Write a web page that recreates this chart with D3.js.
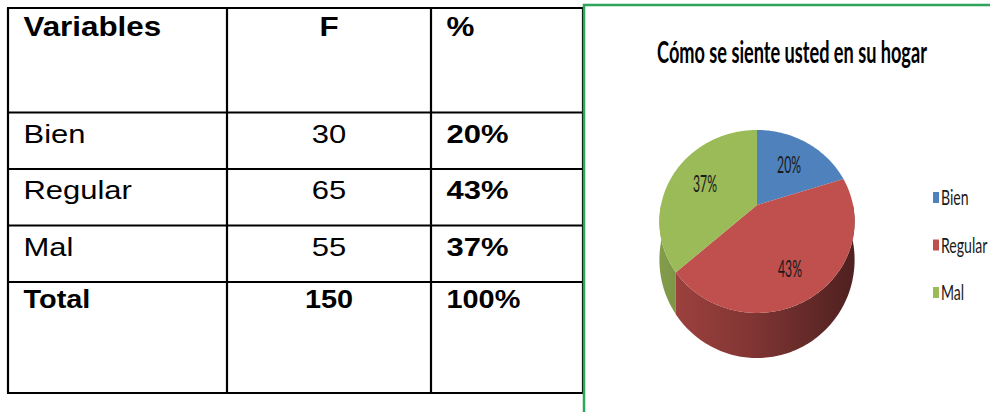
<!DOCTYPE html>
<html>
<head>
<meta charset="utf-8">
<script src="https://cdn.jsdelivr.net/npm/d3@7"></script>
<style>
  body { margin: 0; background: #fff; }
  svg { display: block; }
</style>
</head>
<body>
<div id="chart"></div>
<script>
// data
var headers = ["Variables", "F", "%"];
var categories = ["Bien", "Regular", "Mal"];
var frequencies = [30, 65, 55];
var totalLabel = "Total";
var chartTitle = "Cómo se siente usted en su hogar";
var colors = ["#4f81bd", "#c0504d", "#9bbb59"];

var total = d3.sum(frequencies);
var pct = d3.format(".0%");

var width = 990, height = 412;
var svg = d3.select("#chart").append("svg")
    .attr("width", width)
    .attr("height", height);

// ---------- table ----------
var colEdges = [8, 227, 431, 583];
var tableTop = 8, headerH = 104.5, rowH = 56.5, totalH = 111;
var rowEdges = [tableTop, tableTop + headerH];
categories.forEach(function(c, i) { rowEdges.push(tableTop + headerH + rowH * (i + 1)); });
rowEdges.push(rowEdges[rowEdges.length - 1] + totalH);

var tbl = svg.append("g").attr("class", "table");

tbl.selectAll(".hline")
    .data(rowEdges)
    .enter().append("line")
    .attr("x1", colEdges[0] - 1).attr("x2", colEdges[3] + 1)
    .attr("y1", function(d) { return d; }).attr("y2", function(d) { return d; })
    .attr("stroke", "#000").attr("stroke-width", 2.2);

tbl.selectAll(".vline")
    .data(colEdges)
    .enter().append("line")
    .attr("x1", function(d) { return d; }).attr("x2", function(d) { return d; })
    .attr("y1", rowEdges[0]).attr("y2", rowEdges[rowEdges.length - 1])
    .attr("stroke", "#000").attr("stroke-width", 2.2);

function cellX(col) {
    if (col === 1) return (colEdges[1] + colEdges[2]) / 2;
    return colEdges[col] + 15.5;
}
function cellText(col, y, txt, bold, size, sx) {
    tbl.append("text")
        .attr("transform", "translate(" + cellX(col) + "," + y + ") scale(" + sx + ",1)")
        .attr("text-anchor", col === 1 ? "middle" : "start")
        .attr("font-family", "Liberation Sans, Arial, sans-serif")
        .attr("font-weight", bold ? "bold" : "normal")
        .attr("font-size", size)
        .attr("fill", "#000")
        .text(txt);
}

headers.forEach(function(h, i) { cellText(i, tableTop + 28, h, true, 28.5, 1.1); });

categories.forEach(function(c, i) {
    var y = rowEdges[i + 1] + 30;
    cellText(0, y, c, false, 26, 1.19);
    cellText(1, y, frequencies[i], false, 26, 1.19);
    cellText(2, y, pct(frequencies[i] / total), true, 26, 1.19);
});

var totY = rowEdges[rowEdges.length - 2] + 26;
cellText(0, totY, totalLabel, true, 26.5, 1.09);
cellText(1, totY, total, true, 26.5, 1.09);
cellText(2, totY, pct(1), true, 26.5, 1.09);

// ---------- chart frame ----------
var frameX = 584, frameY = 5;
svg.append("path")
    .attr("d", "M" + frameX + "," + height + "V" + frameY + "H" + width)
    .attr("fill", "none")
    .attr("stroke", "#2ea55a")
    .attr("stroke-width", 2.5);

// squeeze a text horizontally to a given width
function squeeze(sel, x, y, w) {
    var nat = sel.node().getComputedTextLength();
    sel.attr("transform", "translate(" + x + "," + y + ") scale(" + (w / nat) + ",1)");
}

var title = svg.append("text")
    .attr("text-anchor", "middle")
    .attr("font-family", "Lato, Open Sans, sans-serif")
    .attr("font-weight", "bold")
    .attr("font-size", 30)
    .attr("fill", "#000")
    .text(chartTitle);
squeeze(title, 792, 63, 270);

// ---------- 3D pie ----------
var pcx = 757, pcy = 205;     // apex of the top face
var pA = 96, pB = 88.5;       // horizontal / vertical radius
var pk = 0.18;                // perspective
var pDepth = 37;              // thickness

function proj(theta, r, bottom) {
    var X = r * Math.sin(theta), Z = -r * Math.cos(theta);
    var w = 1 - pk * Z;
    return [pcx + pA * X / w, pcy + pB * Z / w + (bottom ? pDepth / w : 0)];
}
function arcPts(a0, a1, bottom) {
    var n = Math.max(2, Math.ceil((a1 - a0) / 0.02));
    return d3.range(n + 1).map(function(i) { return proj(a0 + (a1 - a0) * i / n, 1, bottom); });
}

var pie = d3.pie().sort(null).value(function(d) { return d; });
var arcs = pie(frequencies);
var line = d3.line();

var defs = svg.append("defs");
colors.forEach(function(c, i) {
    var g = defs.append("linearGradient")
        .attr("id", "side" + i)
        .attr("gradientUnits", "userSpaceOnUse")
        .attr("x1", pcx - pA).attr("x2", pcx + pA)
        .attr("y1", 0).attr("y2", 0);
    g.append("stop").attr("offset", "0%").attr("stop-color", d3.rgb(c).darker(0.5));
    g.append("stop").attr("offset", "45%").attr("stop-color", d3.rgb(c).darker(1.1));
    g.append("stop").attr("offset", "100%").attr("stop-color", d3.rgb(c).darker(2.5));
});

var pieG = svg.append("g").attr("class", "pie");

// outer walls (front half only)
arcs.forEach(function(a, i) {
    var s = Math.max(a.startAngle, Math.PI / 2), e = Math.min(a.endAngle, 3 * Math.PI / 2);
    if (e <= s) return;
    var pts = arcPts(s, e, false).concat(arcPts(s, e, true).reverse());
    pieG.append("path")
        .attr("d", line(pts) + "Z")
        .attr("fill", "url(#side" + i + ")");
});

// top faces
arcs.forEach(function(a, i) {
    var pts = [[pcx, pcy]].concat(arcPts(a.startAngle, a.endAngle, false));
    pieG.append("path")
        .attr("d", line(pts) + "Z")
        .attr("fill", colors[i]);
});

// data labels
arcs.forEach(function(a, i) {
    var mid = (a.startAngle + a.endAngle) / 2;
    var p = proj(mid, 0.62, false);
    var dy = 0.35 * pDepth * Math.max(0, -Math.cos(mid));
    var t = pieG.append("text")
        .attr("text-anchor", "middle")
        .attr("dy", "0.36em")
        .attr("font-family", "Lato, Open Sans, sans-serif")
        .attr("font-size", 24)
        .attr("fill", "#1a1a1a")
        .text(pct(a.value / total));
    squeeze(t, p[0], p[1] + dy, 24);
});

// legend
var ly = d3.scalePoint().domain(categories).range([197.5, 292.5]);
var leg = svg.append("g").attr("class", "legend");
categories.forEach(function(c, i) {
    leg.append("rect")
        .attr("x", 933).attr("y", ly(c) - 5.5)
        .attr("width", 6).attr("height", 11)
        .attr("fill", colors[i]);
    leg.append("text")
        .attr("transform", "translate(941," + ly(c) + ") scale(0.64,1)")
        .attr("dy", "0.36em")
        .attr("font-family", "Lato, Open Sans, sans-serif")
        .attr("font-size", 22)
        .attr("fill", "#1a1a1a")
        .text(c);
});
</script>
</body>
</html>
